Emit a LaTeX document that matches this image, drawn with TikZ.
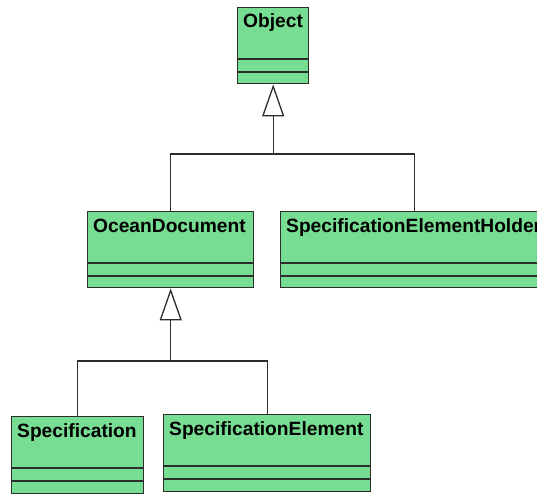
\documentclass[tikz,border=0pt]{standalone}
\usepackage{fontspec}
\setmainfont{Liberation Sans}
\usetikzlibrary{arrows.meta}
\definecolor{classfill}{RGB}{119,221,146}
\definecolor{classline}{RGB}{45,45,45}
\tikzset{
  x=1pt, y=-1pt,
  umlclass/.style={draw=classline, fill=classfill, line width=1.4pt,
    rectangle, inner sep=0pt, anchor=north west},
  classname/.style={anchor=base west, inner sep=0pt,
    font=\fontsize{19.2}{22}\selectfont\bfseries},
  link/.style={draw=classline, line width=1.3pt, line cap=rect},
  inherits/.style={link, -{Triangle[open, fill=white, length=32pt, width=22pt, line width=1.3pt]}},
}
% draws one class box: name, x, y, width, height, title
\newcommand{\umlbox}[6]{%
  \node[umlclass, minimum width=#4pt, minimum height=#5pt] (#1) at (#2,#3) {};
  \node[classname] (#1-t) at ([xshift=6pt,yshift=-21pt]#1.north west) {#6};
  \draw[classline, line width=1.4pt]
    ([yshift=-52pt]#1.north west) -- ([yshift=-52pt]#1.north east)
    ([yshift=-65pt]#1.north west) -- ([yshift=-65pt]#1.north east);
}
\begin{document}
\begin{tikzpicture}
\clip (0,0) rectangle (537,494);
\fill[white] (0,0) rectangle (537,494);

\umlbox{obj}{237}{7}{71}{76}{Object}
\umlbox{od}{87}{211}{166}{76}{OceanDocument}
\umlbox{seh}{280}{211}{268}{76}{SpecificationElementHolder}
\umlbox{spec}{11}{416}{132}{77}{Specification}
\umlbox{se}{163}{414}{207}{77}{SpecificationElement}

% generalisation: OceanDocument, SpecificationElementHolder -> Object
\coordinate (j1) at (obj.south |- 0,154);
\draw[link] (od.north) |- (j1);
\draw[link] (seh.north) |- (j1);
\draw[inherits] (j1) -- (obj.south);

% generalisation: Specification, SpecificationElement -> OceanDocument
\coordinate (j2) at (od.south |- 0,361);
\draw[link] (spec.north) |- (j2);
\draw[link] (se.north) |- (j2);
\draw[inherits] (j2) -- (od.south);
\end{tikzpicture}
\end{document}
